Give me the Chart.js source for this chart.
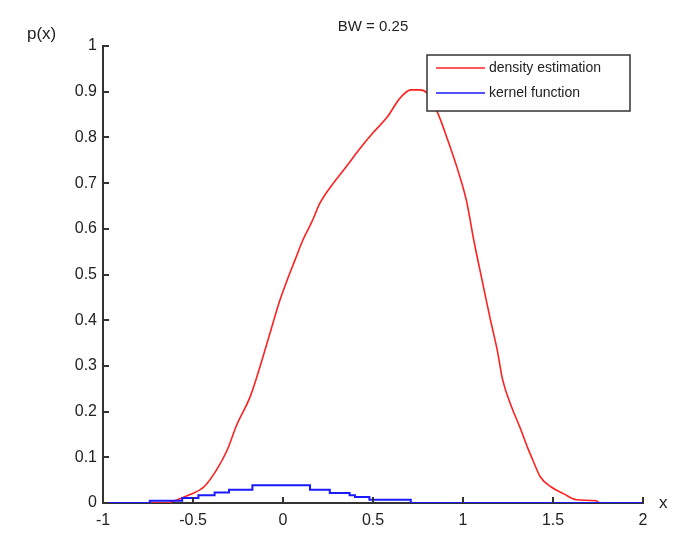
<!DOCTYPE html>
<html lang="en">
<head>
<meta charset="UTF-8">
<title>BW = 0.25</title>
<script src="https://cdn.jsdelivr.net/npm/chart.js"></script>
<style>
    body { margin: 0; background: #fff; }
    #wrap { width: 676px; height: 546px; }
</style>
</head>
<body>
<div id="wrap"><canvas id="kde" width="676" height="546"></canvas></div>
<script>
// values
const densityX = [-1, -0.65, -0.61, -0.52, -0.44, -0.37, -0.31, -0.26, -0.18, -0.128, -0.072, -0.017, 0.03, 0.067, 0.11, 0.16, 0.205, 0.28, 0.35, 0.42, 0.5, 0.58, 0.65, 0.71, 0.76, 0.8, 0.86, 0.91, 0.97, 1.02, 1.06, 1.11, 1.15, 1.19, 1.22, 1.27, 1.32, 1.36, 1.39, 1.43, 1.49, 1.56, 1.63, 1.74, 1.76, 2];
const densityY = [0, 0, 0.004, 0.018, 0.035, 0.072, 0.116, 0.168, 0.235, 0.298, 0.372, 0.444, 0.495, 0.532, 0.575, 0.615, 0.656, 0.70, 0.735, 0.772, 0.81, 0.845, 0.886, 0.904, 0.904, 0.897, 0.853, 0.80, 0.73, 0.66, 0.575, 0.48, 0.405, 0.335, 0.27, 0.21, 0.162, 0.12, 0.092, 0.057, 0.035, 0.02, 0.007, 0.005, 0, 0];

const kernelX = [-1, -0.74, -0.56, -0.47, -0.38, -0.3, -0.17, 0.15, 0.26, 0.37, 0.4, 0.48, 0.71, 2];
const kernelY = [0, 0.005, 0.011, 0.017, 0.023, 0.029, 0.039, 0.029, 0.022, 0.017, 0.013, 0.007, 0, 0];

const xTicks = [-1, -0.5, 0, 0.5, 1, 1.5, 2];
const yTicks = [0, 0.1, 0.2, 0.3, 0.4, 0.5, 0.6, 0.7, 0.8, 0.9, 1];

const seriesNames = ['density estimation', 'kernel function'];
const titleText = 'BW = 0.25';

const FONT = '"Liberation Sans", Arial, sans-serif';

function pairs(xs, ys) {
    return xs.map((x, i) => ({ x: x, y: ys[i] }));
}

// ticks pointing inward + labels + legend box, matlab style
const decorations = {
    id: 'decorations',
    afterDatasetsDraw(chart) {
        const ctx = chart.ctx;
        const xs = chart.scales.x;
        const ys = chart.scales.y;
        const area = chart.chartArea;

        ctx.save();
        ctx.strokeStyle = '#333';
        ctx.lineWidth = 2;
        xTicks.forEach(v => {
            const px = Math.round(xs.getPixelForValue(v));
            ctx.beginPath();
            ctx.moveTo(px, area.bottom);
            ctx.lineTo(px, area.bottom - 6);
            ctx.stroke();
        });
        yTicks.forEach(v => {
            const py = Math.round(ys.getPixelForValue(v));
            ctx.beginPath();
            ctx.moveTo(area.left, py);
            ctx.lineTo(area.left + 6, py);
            ctx.stroke();
        });

        // title and axis names
        ctx.fillStyle = '#222';
        ctx.textBaseline = 'middle';
        ctx.textAlign = 'center';
        ctx.font = '15px ' + FONT;
        ctx.fillText(titleText, (area.left + area.right) / 2, 27);
        ctx.textAlign = 'left';
        ctx.font = '17px ' + FONT;
        ctx.fillText('p(x)', 27, 34);
        ctx.fillText('x', 659, 503);

        // legend
        const lx = 427, ly = 55, lw = 203, lh = 56;
        ctx.fillStyle = '#fff';
        ctx.fillRect(lx, ly, lw, lh);
        ctx.strokeStyle = '#333';
        ctx.lineWidth = 1.5;
        ctx.strokeRect(lx, ly, lw, lh);
        ctx.font = '14px ' + FONT;
        chart.data.datasets.forEach((ds, i) => {
            const y = 68 + i * 25;
            ctx.strokeStyle = ds.borderColor;
            ctx.lineWidth = 1.5;
            ctx.beginPath();
            ctx.moveTo(436, y);
            ctx.lineTo(485, y);
            ctx.stroke();
            ctx.fillStyle = '#222';
            ctx.fillText(ds.label, 489, y);
        });
        ctx.restore();
    }
};

const ctx = document.getElementById('kde').getContext('2d');
const kdeChart = new Chart(ctx, {
    type: 'line',
    data: {
        datasets: [
            {
                label: seriesNames[0],
                data: pairs(densityX, densityY),
                borderColor: '#ff2020',
                borderWidth: 1.6,
                pointRadius: 0,
                cubicInterpolationMode: 'monotone',
                order: 2
            },
            {
                label: seriesNames[1],
                data: pairs(kernelX, kernelY),
                borderColor: '#1a1aff',
                borderWidth: 2,
                pointRadius: 0,
                stepped: true,
                order: 1
            }
        ]
    },
    options: {
        responsive: false,
        animation: false,
        layout: { padding: { top: 46, right: 33, left: 0, bottom: 0 } },
        plugins: {
            legend: { display: false },
            tooltip: { enabled: false }
        },
        scales: {
            x: {
                type: 'linear',
                min: -1,
                max: 2,
                afterBuildTicks: s => { s.ticks = xTicks.map(v => ({ value: v })); },
                afterFit: s => { s.height = 43; },
                grid: { drawOnChartArea: false, drawTicks: false },
                border: { display: true, color: '#333', width: 2 },
                ticks: {
                    padding: 8,
                    color: '#222',
                    font: { family: FONT, size: 16 },
                    callback: v => String(v)
                }
            },
            y: {
                min: 0,
                max: 1,
                afterBuildTicks: s => { s.ticks = yTicks.map(v => ({ value: v })); },
                afterFit: s => { s.width = 103; },
                grid: { drawOnChartArea: false, drawTicks: false },
                border: { display: true, color: '#333', width: 2 },
                ticks: {
                    padding: 6,
                    color: '#222',
                    font: { family: FONT, size: 16 },
                    callback: v => String(Math.round(v * 10) / 10)
                }
            }
        }
    },
    plugins: [decorations]
});
</script>
</body>
</html>
